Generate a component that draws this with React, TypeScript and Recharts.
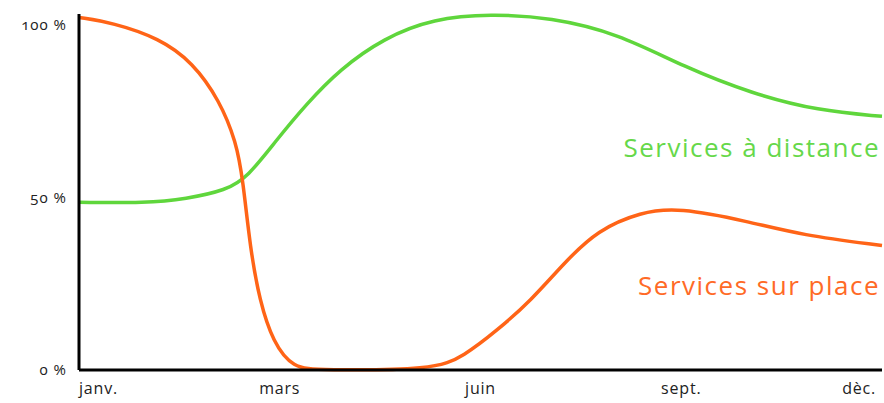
import { LineChart, Line, XAxis, YAxis } from 'recharts'

const MONTH_TICKS = [0, 3, 6, 9, 12]
const MONTH_LABELS = ['janv.', 'mars', 'juin', 'sept.', 'dèc.']
const PERCENT_TICKS = [0, 50, 100]

// services sur place (orange)
const onSiteX = [0, 0.5, 1.2, 1.7, 2.1, 2.35, 2.45, 2.56, 2.7, 2.9, 3.2, 3.6, 5.3, 5.75, 6.25, 6.75, 7.25, 7.75, 8.4, 8.95, 10, 10.8, 12]
const onSiteY = [102, 100.5, 96, 89, 78, 66, 55, 35, 20, 8, 0.5, 0, 0, 4, 11.5, 20, 31, 40.5, 45.7, 47, 43, 39, 36]

// services à distance (green)
const remoteX = [0, 1, 1.6, 2.2, 2.52, 2.95, 3.4, 3.9, 4.55, 5.3, 6.15, 7.05, 8.05, 9.05, 10.05, 11.05, 12]
const remoteY = [48.5, 48.3, 49.5, 52, 55.8, 66.5, 77, 87, 96, 101.7, 103, 102, 97.4, 87.6, 80, 75, 73.4]

const onSite = onSiteX.map((x, i) => ({ x, y: onSiteY[i] }))
const remote = remoteX.map((x, i) => ({ x, y: remoteY[i] }))

const FONT = '"Open Sans", sans-serif'
const ORANGE = '#ff6417'
const GREEN = '#5fd63c'

function MonthTick(props: any) {
  const { x, y, payload, index } = props
  const anchor = index === 0 ? 'start' : index === MONTH_TICKS.length - 1 ? 'end' : 'middle'
  const label = MONTH_LABELS[MONTH_TICKS.indexOf(payload.value)]
  return (
    <text x={x} y={y} dy={16} textAnchor={anchor} fontFamily={FONT} fontSize={16} letterSpacing={0.8} fill="#222">
      {label}
    </text>
  )
}

export default function App() {
  return (
    <div style={{ position: 'absolute', left: 0, top: 0, width: 884, height: 403, background: '#fff' }}>
      <LineChart width={884} height={403} margin={{ top: 14, right: 2, bottom: 0, left: 0 }}>
        <XAxis
          type="number"
          dataKey="x"
          domain={[0, 12]}
          ticks={MONTH_TICKS}
          tick={<MonthTick />}
          tickLine={false}
          axisLine={{ stroke: '#000', strokeWidth: 3 }}
          height={33}
          allowDuplicatedCategory={false}
        />
        <YAxis
          type="number"
          domain={[0, 103]}
          ticks={PERCENT_TICKS}
          tickFormatter={(v) => `${v} %`}
          tickLine={false}
          tickMargin={6}
          axisLine={{ stroke: '#000', strokeWidth: 3 }}
          tick={{ fontFamily: FONT, fontSize: 15, fill: '#222', letterSpacing: 1, style: { fontVariantNumeric: 'oldstyle-nums' } }}
          width={79}
        />
        <Line data={remote} dataKey="y" type="basis" stroke={GREEN} strokeWidth={3.5} dot={false} isAnimationActive={false} />
        <Line data={onSite} dataKey="y" type="basis" stroke={ORANGE} strokeWidth={3.5} dot={false} isAnimationActive={false} />
      </LineChart>
      <svg width={884} height={403} style={{ position: 'absolute', left: 0, top: 0, pointerEvents: 'none' }}>
        <text x={880} y={157} textAnchor="end" fontFamily={FONT} fontSize={26} letterSpacing={1.5} fill="#66d84a">
          Services à distance
        </text>
        <text x={880} y={295} textAnchor="end" fontFamily={FONT} fontSize={26} letterSpacing={1.5} fill="#ff6a26">
          Services sur place
        </text>
      </svg>
    </div>
  )
}
